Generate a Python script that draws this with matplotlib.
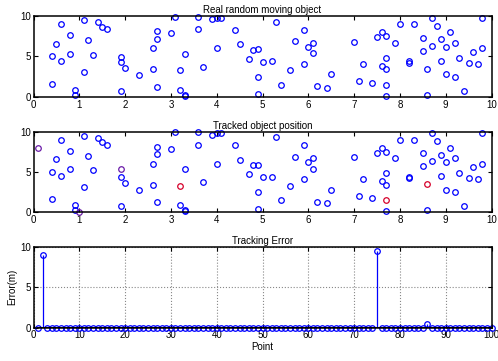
import numpy as np
import matplotlib.pyplot as plt

plt.rcParams['font.family'] = ['Liberation Sans', 'DejaVu Sans']

# ground-truth positions of the moving object
real_x = [0.4, 0.4, 0.5, 0.6, 0.6, 0.8, 0.8, 0.9, 0.9, 1.1,
          1.1, 1.2, 1.3, 1.4, 1.5, 1.6, 1.9, 1.9, 2.0, 1.9,
          2.3, 2.6, 2.6, 2.7, 2.7, 2.7, 3.0, 3.1, 3.2, 3.2,
          3.3, 3.3, 3.3, 3.6, 3.6, 3.7, 3.9, 4.0, 4.1, 4.0,
          4.4, 4.5, 4.7, 4.8, 4.9, 4.9, 4.9,
          5.0, 5.2, 5.3, 5.4, 5.6, 5.7, 5.9, 5.9, 6.0, 6.1,
          6.1, 6.2, 6.4, 6.5, 7.0, 7.1, 7.2, 7.4, 7.5, 7.6,
          7.7, 7.6, 7.7, 7.7, 7.7, 7.7, 7.9, 8.0, 8.2, 8.2,
          8.3, 8.5, 8.5, 8.6, 8.6, 8.7, 8.7, 8.8, 8.9, 8.9,
          9.0, 9.0, 9.1, 9.2, 9.2, 9.3, 9.4, 9.5, 9.6, 9.7,
          9.8, 9.8]
real_y = [1.6, 5.0, 6.6, 9.0, 4.5, 7.6, 5.3, 0.9, 0.25, 9.5,
          3.1, 7.0, 5.2, 9.2, 8.7, 8.4, 4.9, 4.3, 3.6, 0.8,
          2.7, 6.0, 3.4, 8.1, 7.2, 1.2, 7.9, 9.9, 3.3, 0.9,
          5.3, 0.3, 0.1, 9.9, 8.4, 3.7, 9.6, 9.8, 9.8, 6.0,
          8.3, 6.5, 4.7, 5.8, 5.9, 2.5, 0.4,
          4.3, 4.4, 9.3, 1.5, 3.3, 6.9, 8.3, 4.1, 6.2, 6.7,
          5.4, 1.3, 1.1, 2.8, 6.8, 2.0, 4.1, 1.7, 7.4, 8.0,
          7.5, 3.8, 4.8, 3.4, 1.5, 0.15, 6.7, 9.0, 4.4, 4.2,
          9.0, 7.3, 5.7, 3.5, 0.3, 9.8, 6.3, 8.8, 7.1, 4.5,
          6.2, 2.8, 8.0, 6.7, 2.5, 4.8, 0.7, 4.2, 5.6, 4.1,
          9.8, 6.0]

# tracker output: points it lost, points flagged red, and wrong estimates
lost_idx = [16]
red_idx = [28, 71, 80]
wrong_x = [0.1, 1.0, 1.9]
wrong_y = [8.0, 0.05, 5.3]

# tracking error per point (m)
err_idx = [2, 75, 86]
err_val = [9.0, 9.5, 0.4]
n_points = 100

BLUE = '#0000ff'
RED = '#d6002a'
PURPLE = '#6a1aa8'


def style_axes(ax):
    for s in ax.spines.values():
        s.set_linewidth(1.1)
    ax.tick_params(direction='in', length=3, width=0.8, labelsize=7,
                   top=True, right=True, pad=2)


fig = plt.figure(figsize=(4.98, 3.61), dpi=100)
left, width = 0.0673, 0.9197
ax1 = fig.add_axes([left, 0.7313, width, 0.2244])
ax2 = fig.add_axes([left, 0.4127, width, 0.2225])
ax3 = fig.add_axes([left, 0.0922, width, 0.2236])

mk = dict(marker='o', linestyle='none', markersize=4.0,
          markerfacecolor='none', markeredgewidth=0.9, clip_on=False)

# real positions
ax1.plot(real_x, real_y, markeredgecolor=BLUE, **mk)
ax1.set_title('Real random moving object', fontsize=7, pad=2)

# tracked positions
rx = np.array(real_x)
ry = np.array(real_y)
keep = np.ones(len(rx), bool)
keep[lost_idx] = False
keep[red_idx] = False
ax2.plot(rx[keep], ry[keep], markeredgecolor=BLUE, **mk)
ax2.plot(rx[red_idx], ry[red_idx], markeredgecolor=RED, **mk)
ax2.plot(wrong_x, wrong_y, markeredgecolor=PURPLE, **mk)
ax2.set_title('Tracked object position', fontsize=7, pad=2)

for ax in (ax1, ax2):
    ax.set_xlim(0, 10)
    ax.set_ylim(0, 10)
    ax.set_xticks(range(0, 11))
    ax.set_yticks([0, 5, 10])
    style_axes(ax)

# tracking error stem plot
pts = np.arange(1, n_points + 1)
err = np.zeros(n_points)
err[np.array(err_idx) - 1] = err_val
markerline, stemlines, baseline = ax3.stem(pts, err, linefmt='-', basefmt='k-')
plt.setp(markerline, marker='o', markersize=4.0, markerfacecolor='none',
         markeredgecolor=BLUE, markeredgewidth=0.9, clip_on=False)
plt.setp(stemlines, color=BLUE, linewidth=0.9)
plt.setp(baseline, color='k', linewidth=1.4)
ax3.set_xlim(0, 100)
ax3.set_ylim(0, 10)
ax3.set_xticks(range(0, 101, 10))
ax3.set_yticks([0, 5, 10])
ax3.grid(True, linestyle=':', color='#888888', linewidth=0.8)
ax3.set_axisbelow(True)
ax3.set_title('Tracking Error', fontsize=7, pad=2)
ax3.set_xlabel('Point', fontsize=7, labelpad=1)
ax3.set_ylabel('Error(m)', fontsize=7, labelpad=2)
style_axes(ax3)

fig.savefig('out.png', dpi=100)
